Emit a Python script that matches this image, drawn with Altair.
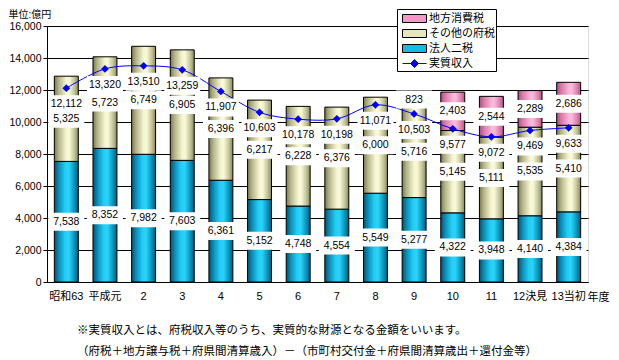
import altair as alt
import pandas as pd

# ---- data ----
cats = ["昭和63", "平成元", "2", "3", "4", "5", "6", "7", "8", "9", "10", "11", "12決見", "13当初"]
houjin = [7538, 8352, 7982, 7603, 6361, 5152, 4748, 4554, 5549, 5277, 4322, 3948, 4140, 4384]
sonota = [5325, 5723, 6749, 6905, 6396, 6217, 6228, 6376, 6000, 5716, 5145, 5111, 5535, 5410]
chiho = [0, 0, 0, 0, 0, 0, 0, 0, 0, 823, 2403, 2544, 2289, 2686]
jisshitsu = [12112, 13320, 13510, 13259, 11907, 10603, 10178, 10198, 11071, 10503, 9577, 9072, 9469, 9633]
series_names = ["地方消費税", "その他の府税", "法人二税", "実質収入"]
y_ticks = [0, 2000, 4000, 6000, 8000, 10000, 12000, 14000, 16000]
note_lines = [
    "※実質収入とは、府税収入等のうち、実質的な財源となる金額をいいます。",
    "（府税＋地方譲与税＋府県間清算歳入）－（市町村交付金＋府県間清算歳出＋還付金等）",
]

rows = []
for i, c in enumerate(cats):
    for name, vals, order in [("法人二税", houjin, 1), ("その他の府税", sonota, 2), ("地方消費税", chiho, 3)]:
        if vals[i] > 0:
            rows.append({"cat": c, "series": name, "value": vals[i], "order": order})
bars_df = pd.DataFrame(rows)
line_df = pd.DataFrame({"cat": cats, "value": jisshitsu, "series": ["実質収入"] * len(cats)})

NUM_FONT = "Liberation Sans, Noto Sans CJK JP"
JP_FONT = "Noto Sans CJK JP"


def grad(stops):
    return alt.Gradient(
        gradient="linear", x1=0, x2=1, y1=0, y2=0,
        stops=[alt.GradientStop(offset=o, color=c) for o, c in stops],
    )


grad_cyan = grad([(0, "#04526c"), (0.18, "#0a8cb4"), (0.45, "#22cdf5"), (0.6, "#2ad4fa"), (0.85, "#0a8fb6"), (1, "#055a76")])
grad_khaki = grad([(0, "#7a7a4c"), (0.18, "#b4b48a"), (0.5, "#f6f6d2"), (0.62, "#fafad8"), (0.85, "#c0c096"), (1, "#86865a")])
grad_pink = grad([(0, "#a8507a"), (0.18, "#d878a6"), (0.5, "#f8b4d8"), (0.62, "#fabcdc"), (0.85, "#dc80ac"), (1, "#b05882")])

x_enc = alt.X(
    "cat:N", sort=cats,
    scale=alt.Scale(paddingInner=0.38, paddingOuter=0.19),
    axis=alt.Axis(
        title="年度", labelAngle=0, ticks=False, labelPadding=8, grid=False,
        labelFont=NUM_FONT, labelFontSize=11, labelColor="black",
        titleX=551, titleY=15, titleAlign="center", titleBaseline="middle",
        titleFont=JP_FONT, titleFontSize=11, titleFontWeight="normal", titleColor="black",
        domainColor="black",
    ),
)
y_axis = alt.Axis(
    title="単位:億円", values=y_ticks, labelExpr="format(datum.value, ',')",
    grid=True, gridColor="black",
    tickColor="black", tickSize=4, labelPadding=2, domainColor="black",
    labelFont=NUM_FONT, labelFontSize=10.5, labelColor="black",
    titleAngle=0, titleX=-39, titleY=-12, titleAlign="left", titleBaseline="middle",
    titleFont=NUM_FONT, titleFontSize=10, titleFontWeight="normal", titleColor="black",
)
y_scale = alt.Scale(domain=[0, 16000], nice=False)

base = alt.Chart(bars_df).transform_stack(
    stack="value", groupby=["cat"], as_=["y0", "y1"],
    sort=[alt.SortField("order", order="ascending")],
).transform_calculate(ymid="(datum.y0 + datum.y1) / 2")

bar_layers = []
for name, g in [("法人二税", grad_cyan), ("その他の府税", grad_khaki), ("地方消費税", grad_pink)]:
    bar_layers.append(
        base.transform_filter(alt.datum.series == name)
        .mark_bar(fill=g, stroke="black", strokeWidth=1)
        .encode(x=x_enc, y=alt.Y("y0:Q", scale=y_scale, axis=y_axis), y2="y1:Q")
    )

line = alt.Chart(line_df).mark_line(
    color="#0000ff", strokeWidth=1, interpolate="catmull-rom",
    point=alt.OverlayMarkDef(shape="diamond", filled=True, color="#0000ff", size=60),
).encode(x=x_enc, y=alt.Y("value:Q", scale=y_scale, axis=y_axis))

RECT = "M-1.5,-0.5H1.5V0.5H-1.5Z"
LINE_DIAMOND = "M-1.5,0H1.5M0,-0.5L0.5,0L0,0.5L-0.5,0Z"
legend = alt.Legend(
    title=None, orient="none", legendX=350, legendY=-17,
    fillColor="white", strokeColor="black", padding=1,
    symbolSize=256, symbolOffset=8, labelOffset=6, rowPadding=0,
    symbolStrokeColor=alt.ExprRef(expr="datum.value === '実質収入' ? '#0000ff' : '#000000'"),
    symbolStrokeWidth=1,
    labelFont=JP_FONT, labelFontSize=11, labelColor="black",
    labelExpr="datum.label + '   '",
)
legend_layer = alt.Chart(line_df).transform_filter("false").mark_point(filled=True, opacity=1).encode(
    color=alt.Color("series:N", scale=alt.Scale(domain=series_names, range=["#f098c6", "#e6e6b8", "#14bce4", "#0000ff"]), legend=legend),
    shape=alt.Shape("series:N", scale=alt.Scale(domain=series_names, range=[RECT, RECT, RECT, LINE_DIAMOND]), legend=legend),
)

BOX = "M-1,-0.5H1V0.5H-1Z"
seg_boxes = base.mark_point(shape=BOX, size=1296, filled=True, fill="white", opacity=1, strokeWidth=0).encode(
    x=x_enc, y=alt.Y("ymid:Q", scale=y_scale, axis=y_axis)
)
line_boxes = alt.Chart(line_df).mark_point(shape=BOX, size=1296, filled=True, fill="white", opacity=1, strokeWidth=0, yOffset=16).encode(
    x=x_enc, y=alt.Y("value:Q", scale=y_scale, axis=y_axis)
)
seg_text = base.mark_text(font=NUM_FONT, fontSize=10.5, baseline="middle", color="black").encode(
    x=x_enc, y=alt.Y("ymid:Q", scale=y_scale, axis=y_axis), text=alt.Text("value:Q", format=",")
)
line_text = alt.Chart(line_df).mark_text(font=NUM_FONT, fontSize=10.5, baseline="middle", color="black", dy=16).encode(
    x=x_enc, y=alt.Y("value:Q", scale=y_scale, axis=y_axis), text=alt.Text("value:Q", format=",")
)

chart = alt.layer(
    *bar_layers, line, legend_layer, seg_boxes, line_boxes, seg_text, line_text
).properties(
    width=541, height=256,
    autosize=alt.AutoSizeParams(type="none"),
    padding={"left": 39, "top": 18, "right": 23, "bottom": 82},
    title=alt.TitleParams(
        text=note_lines, orient="bottom", anchor="start", frame="group", dx=30, offset=23,
        font=JP_FONT, fontSize=11.5, fontWeight="normal", color="black",
        lineHeight=20.5, baseline="top",
    ),
).configure_view(stroke="black", strokeWidth=1).configure(background="white")

chart.save("out.html", embed_options={"renderer": "svg", "actions": False})
